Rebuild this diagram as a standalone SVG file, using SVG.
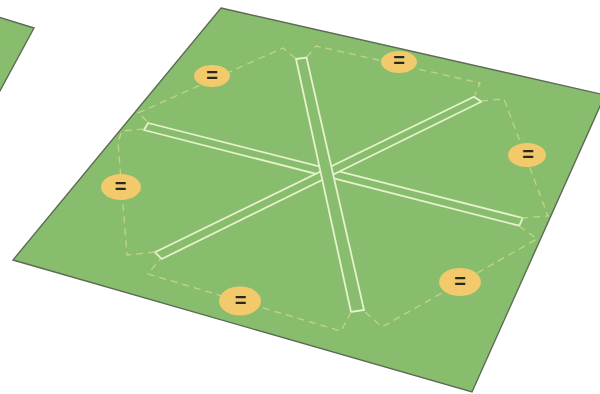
<svg xmlns="http://www.w3.org/2000/svg" width="600" height="394" viewBox="0 0 600 394">
<style>
.plate{fill:#88bd6e;stroke:#5d6b55;stroke-width:1.4}
.strip{fill:#88bd6e;stroke:#e6f2cc;stroke-width:1.8;stroke-linejoin:miter}
.dash{fill:none;stroke:#c2d486;stroke-width:1.3;stroke-dasharray:7 5}
.badge{fill:#f2c96b}
.eq{font-family:"Liberation Sans",sans-serif;font-weight:700;fill:#2a2a1c;text-anchor:middle;font-size:20px}
</style>
<g id="plate-left"><polygon class="plate" points="-5,16 34,28 -5,100"/></g>
<g id="plate-main"><polygon class="plate" points="221,8 605,95 472,392 13,260"/></g>
<g id="strips">
<polygon class="strip" points="148,123 522.7,218 519.3,225.7 144,130"/>
<polygon class="strip" points="474,96.7 481.3,101.7 161.7,259 155,252.3"/>
<polygon class="strip" points="296,59 306.5,57.5 364,310 351,312"/>
</g>
<g id="connectors">
<polyline class="dash" points="147,121 138,113 283,48 295,58"/>
<polyline class="dash" points="307,57 316,46 480,83 475,95"/>
<polyline class="dash" points="481,101 504,99 548,216 522,218"/>
<polyline class="dash" points="519,226 537,239 382,327 364,311"/>
<polyline class="dash" points="351,312 341,331 148,274 160,259"/>
<polyline class="dash" points="155,252 127,255 118,142 122,131 144,129"/>
</g>
<g id="badge-1"><ellipse class="badge" cx="212" cy="76" rx="18" ry="11"/><text class="eq" x="212" y="81.5">=</text></g>
<g id="badge-2"><ellipse class="badge" cx="399" cy="62" rx="18" ry="11"/><text class="eq" x="399" y="67">=</text></g>
<g id="badge-3"><ellipse class="badge" cx="527" cy="155" rx="19" ry="12"/><text class="eq" x="528" y="160.5">=</text></g>
<g id="badge-4"><ellipse class="badge" cx="121" cy="187" rx="20" ry="13"/><text class="eq" x="120.5" y="192.5">=</text></g>
<g id="badge-5"><ellipse class="badge" cx="240" cy="301" rx="21" ry="14.5"/><text class="eq" x="240.5" y="307">=</text></g>
<g id="badge-6"><ellipse class="badge" cx="460" cy="282" rx="21" ry="14"/><text class="eq" x="460" y="287.5">=</text></g>
</svg>
